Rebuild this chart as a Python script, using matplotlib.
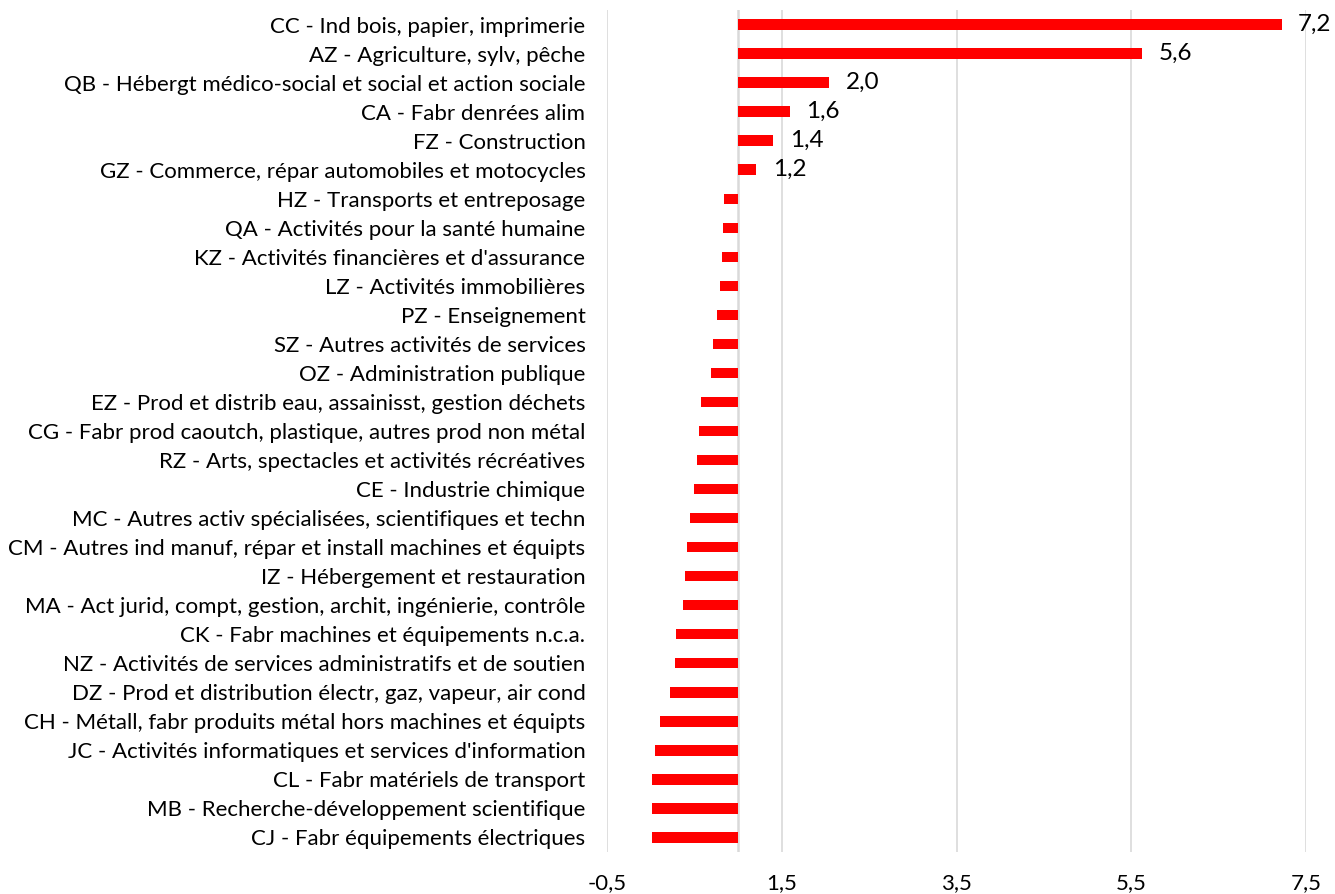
import numpy as np
import matplotlib.pyplot as plt

plt.rcParams['font.family'] = ['Lato', 'DejaVu Sans']

# secteurs, du haut vers le bas
secteurs = [
    "CC - Ind bois, papier, imprimerie",
    "AZ - Agriculture, sylv, pêche",
    "QB - Hébergt médico-social et social et action sociale",
    "CA - Fabr denrées alim",
    "FZ - Construction",
    "GZ - Commerce, répar automobiles et motocycles",
    "HZ - Transports et entreposage",
    "QA - Activités pour la santé humaine",
    "KZ - Activités financières et d'assurance",
    "LZ - Activités immobilières",
    "PZ - Enseignement",
    "SZ - Autres activités de services",
    "OZ - Administration publique",
    "EZ - Prod et distrib eau, assainisst, gestion déchets",
    "CG - Fabr prod caoutch, plastique, autres prod non métal",
    "RZ - Arts, spectacles et activités récréatives",
    "CE - Industrie chimique",
    "MC - Autres activ spécialisées, scientifiques et techn",
    "CM - Autres ind manuf, répar et install machines et équipts",
    "IZ - Hébergement et restauration",
    "MA - Act jurid, compt, gestion, archit, ingénierie, contrôle",
    "CK - Fabr machines et équipements n.c.a.",
    "NZ - Activités de services administratifs et de soutien",
    "DZ - Prod et distribution électr, gaz, vapeur, air cond",
    "CH - Métall, fabr produits métal hors machines et équipts",
    "JC - Activités informatiques et services d'information",
    "CL - Fabr matériels de transport",
    "MB - Recherche-développement scientifique",
    "CJ - Fabr équipements électriques",
]
valeurs = [7.22, 5.62, 2.04, 1.59, 1.40, 1.21,
           0.84, 0.83, 0.82, 0.79, 0.76, 0.71, 0.69,
           0.57, 0.55, 0.53, 0.50, 0.45, 0.41, 0.39, 0.37,
           0.285, 0.28, 0.22, 0.11, 0.05, 0.01, 0.01, 0.01]

base = 1.0  # l'axe vertical croise a 1
xticks = [-0.5, 1.5, 3.5, 5.5, 7.5]

fig = plt.figure(figsize=(13.35, 8.94), dpi=100)
ax = fig.add_axes([0.4547, 0.047, 0.5236, 0.9418])

y = np.arange(len(secteurs))
vals = np.array(valeurs)
ax.barh(y, vals - base, left=base, height=0.36, color='#ff0000', zorder=3)

# etiquettes pour les valeurs au-dessus de 1
for yi, v in zip(y, vals):
    if v > base:
        ax.text(v + 0.19, yi, f"{v:.1f}".replace('.', ','), va='center', ha='left',
                fontsize=17.5, color='black', clip_on=False)

ax.set_xlim(-0.5, 7.5)
ax.set_ylim(len(secteurs) - 0.5, -0.5)
ax.set_xticks(xticks)
ax.set_xticklabels([f"{t:.1f}".replace('.', ',') for t in xticks], fontsize=16)
ax.set_yticks(y)
ax.set_yticklabels(secteurs, fontsize=16)
ax.tick_params(axis='both', length=0)
ax.tick_params(axis='x', pad=15)
ax.tick_params(axis='y', pad=15.5)

ax.grid(axis='x', color='#d9d9d9', linewidth=1.2, zorder=0)
ax.axvline(base, color='#d9d9d9', linewidth=1.8, zorder=2)
for s in ax.spines.values():
    s.set_visible(False)

fig.savefig('out.png', dpi=100)
